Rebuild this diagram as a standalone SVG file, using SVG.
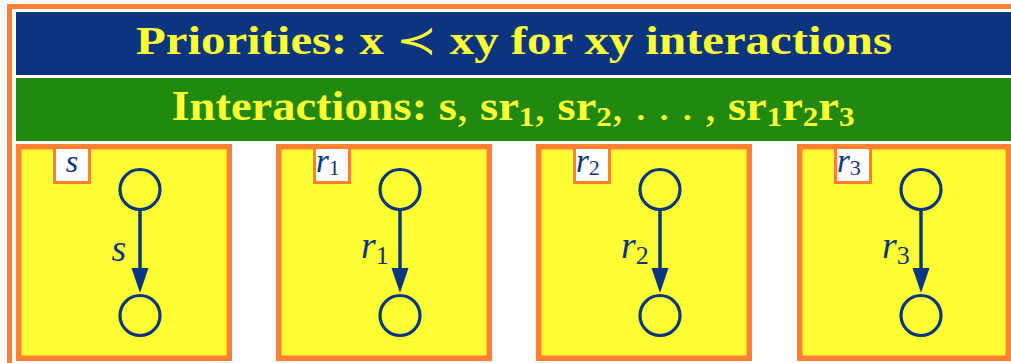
<svg xmlns="http://www.w3.org/2000/svg" width="1011" height="363" viewBox="0 0 1011 363">
  <style>
    .panel { fill: #ffff33; stroke: #ff8033; stroke-width: 5.5; }
    .tag { fill: #ffffff; stroke: #ff8033; stroke-width: 3; }
    .node { fill: none; stroke: #0b367f; stroke-width: 3.2; }
    .edge { stroke: #0b367f; stroke-width: 3.5; fill: none; }
    .hdr { font-family: "Liberation Serif", "DejaVu Serif", serif; font-weight: bold; fill: #ffff33; }
    .math { font-family: "Liberation Serif", "DejaVu Serif", serif; font-style: italic; fill: #0b367f; }
    .sub { font-style: normal; }
  </style>
  <defs>
    <marker id="arr" markerUnits="userSpaceOnUse" markerWidth="26" markerHeight="18" refX="12" refY="9" orient="auto" viewBox="0 0 26 18">
      <path d="M0,0.5 L25,9 L0,17.5 Z" fill="#0b367f"/>
    </marker>
  </defs>
  <rect x="0" y="0" width="1011" height="363" fill="#ffffff"/>
  <rect id="frame" x="9.5" y="6.5" width="1012" height="364" fill="none" stroke="#ff8033" stroke-width="5"/>

  <g id="title">
    <rect x="16" y="12" width="995" height="63" fill="#0b367f"/>
    <text class="hdr" x="514" y="54" font-size="40" text-anchor="middle" textLength="756" lengthAdjust="spacingAndGlyphs">Priorities: x <tspan font-weight="normal">≺</tspan> xy for xy interactions</text>
  </g>

  <g id="interactions">
    <rect x="16" y="78" width="995" height="63" fill="#218910"/>
    <text class="hdr" x="513" y="120" font-size="42" text-anchor="middle" textLength="683" lengthAdjust="spacingAndGlyphs">Interactions:  s<tspan font-weight="normal">,</tspan> sr<tspan font-size="28" dy="6">1</tspan><tspan dy="-6" font-weight="normal">,</tspan> sr<tspan font-size="28" dy="6">2</tspan><tspan dy="-6" font-weight="normal">, . . . ,</tspan> sr<tspan font-size="28" dy="6">1</tspan><tspan dy="-6">r</tspan><tspan font-size="28" dy="6">2</tspan><tspan dy="-6">r</tspan><tspan font-size="28" dy="6">3</tspan></text>
  </g>

  <g id="panel-s">
    <rect class="panel" x="18.75" y="146.75" width="210.5" height="211.5"/>
    <rect class="tag" x="54.5" y="147.5" width="35" height="35"/>
    <text class="math" x="72" y="172" font-size="32" text-anchor="middle">s</text>
    <circle class="node" cx="140" cy="189.5" r="20"/>
    <circle class="node" cx="140" cy="315.5" r="20"/>
    <text class="math" x="119" y="261" font-size="38" text-anchor="middle">s</text>
  </g>

  <g id="panel-r1">
    <rect class="panel" x="278.75" y="146.75" width="210.5" height="211.5"/>
    <rect class="tag" x="314.5" y="147.5" width="35" height="35"/>
    <text class="math" x="316" y="172" font-size="33">r<tspan class="sub" font-size="22" dy="3">1</tspan></text>
    <circle class="node" cx="400" cy="189.5" r="20"/>
    <circle class="node" cx="400" cy="315.5" r="20"/>
    <text class="math" x="361" y="258" font-size="38">r<tspan class="sub" font-size="26" dy="6">1</tspan></text>
  </g>

  <g id="panel-r2">
    <rect class="panel" x="538.75" y="146.75" width="210.5" height="211.5"/>
    <rect class="tag" x="574.5" y="147.5" width="35" height="35"/>
    <text class="math" x="576" y="172" font-size="33">r<tspan class="sub" font-size="22" dy="3">2</tspan></text>
    <circle class="node" cx="660" cy="189.5" r="20"/>
    <circle class="node" cx="660" cy="315.5" r="20"/>
    <text class="math" x="621" y="258" font-size="38">r<tspan class="sub" font-size="26" dy="6">2</tspan></text>
  </g>

  <g id="panel-r3">
    <rect class="panel" x="799.75" y="146.75" width="208.5" height="211.5"/>
    <rect class="tag" x="835.5" y="147.5" width="35" height="35"/>
    <text class="math" x="837" y="172" font-size="33">r<tspan class="sub" font-size="22" dy="3">3</tspan></text>
    <circle class="node" cx="921" cy="189.5" r="20"/>
    <circle class="node" cx="921" cy="315.5" r="20"/>
    <text class="math" x="882" y="258" font-size="38">r<tspan class="sub" font-size="26" dy="6">3</tspan></text>
  </g>

  <g id="connectors">
    <line class="edge" x1="140" y1="211" x2="140" y2="280" marker-end="url(#arr)"/>
    <line class="edge" x1="400" y1="211" x2="400" y2="280" marker-end="url(#arr)"/>
    <line class="edge" x1="660" y1="211" x2="660" y2="280" marker-end="url(#arr)"/>
    <line class="edge" x1="921" y1="211" x2="921" y2="280" marker-end="url(#arr)"/>
  </g>
</svg>
